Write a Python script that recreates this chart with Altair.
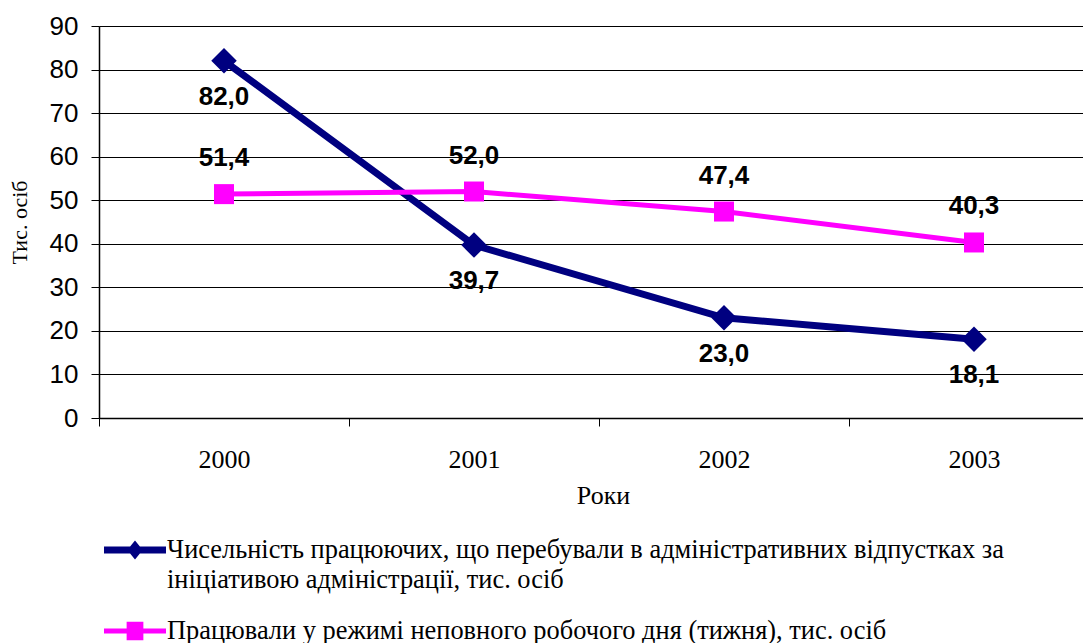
import altair as alt
import pandas as pd

years = ["2000", "2001", "2002", "2003"]
admin_leave = [82.0, 39.7, 23.0, 18.1]
part_time = [51.4, 52.0, 47.4, 40.3]

s1_name = "Чисельність працюючих, що перебували в адміністративних відпустках за|ініціативою адміністрації, тис. осіб"
s2_name = "Працювали у режимі неповного робочого дня (тижня), тис. осіб"

NAVY = "#000080"
MAGENTA = "#FF00FF"
SERIF = "Liberation Serif, Times New Roman, Times, serif"
SANS = "Liberation Sans, Arial, sans-serif"


def fmt(v):
    return f"{v:.1f}".replace(".", ",")


df1 = pd.DataFrame({"year": years, "value": admin_leave, "series": s1_name,
                    "label": [fmt(v) for v in admin_leave]})
df2 = pd.DataFrame({"year": years, "value": part_time, "series": s2_name,
                    "label": [fmt(v) for v in part_time]})

x_enc = alt.X(
    "year:N",
    scale=alt.Scale(type="band", paddingInner=0, paddingOuter=0, range=[0, 1000]),
    axis=alt.Axis(
        title="Роки", tickBand="extent", labelAngle=0, tickSize=8,
        labelPadding=20, labelFont=SERIF, labelFontSize=26, labelColor="black",
        titleFont=SERIF, titleFontSize=26, titleFontWeight="normal", titleColor="black",
        titlePadding=10, titleX=504, domainColor="black", tickColor="black",
        domainWidth=1.5, grid=False,
    ),
)
y_enc = alt.Y(
    "value:Q",
    scale=alt.Scale(domain=[0, 90], nice=False, zero=True),
    axis=alt.Axis(
        title="Тис. осіб", values=list(range(0, 91, 10)), tickSize=8,
        labelPadding=13, labelFont=SANS, labelFontSize=26, labelColor="black",
        titleFont=SERIF, titleFontSize=22, titleFontWeight="normal", titleColor="black",
        titlePadding=18, domainColor="black", tickColor="black", domainWidth=1.5,
        grid=True, gridColor="black", gridOpacity=1, gridWidth=1,
    ),
)

path1 = ("M-1,-0.113 L1,-0.113 L1,0.113 L-1,0.113 Z "
         "M-0.25,0 L0,-0.31 L0.25,0 L0,0.31 Z")
path2 = ("M-1,-0.08 L1,-0.08 L1,0.08 L-1,0.08 Z "
         "M-0.27,-0.3 L0.27,-0.3 L0.27,0.3 L-0.27,0.3 Z")

line1 = alt.Chart(df1).mark_line(strokeWidth=7).encode(
    x=x_enc, y=y_enc,
    color=alt.Color("series:N", scale=alt.Scale(domain=[s1_name], range=[NAVY]),
                    legend=alt.Legend(
                        orient="none", legendX=5, legendY=493, title=None, padding=0,
                        symbolType=path1, symbolSize=3844, symbolFillColor=NAVY,
                        symbolStrokeWidth=0, labelExpr="split(datum.label, '|')",
                        labelFont=SERIF, labelFontSize=26.4, labelColor="black",
                        labelLimit=2000, labelOffset=1)),
)
pts1 = alt.Chart(df1).mark_point(shape="diamond", filled=True, size=650, opacity=1,
                                 color=NAVY).encode(x=x_enc, y=y_enc)
txt1 = alt.Chart(df1).mark_text(dy=36, font=SANS, fontSize=26, fontWeight="bold",
                                color="black").encode(x=x_enc, y=y_enc, text="label:N")

line2 = alt.Chart(df2).mark_line(strokeWidth=5).encode(
    x=x_enc, y=y_enc,
    color=alt.Color("series:N", scale=alt.Scale(domain=[s2_name], range=[MAGENTA]),
                    legend=alt.Legend(
                        orient="none", legendX=5, legendY=574, title=None, padding=0,
                        symbolType=path2, symbolSize=3844, symbolFillColor=MAGENTA,
                        symbolStrokeWidth=0,
                        labelFont=SERIF, labelFontSize=26.4, labelColor="black",
                        labelLimit=2000, labelOffset=1)),
)
pts2 = alt.Chart(df2).mark_point(shape="square", filled=True, size=400, opacity=1,
                                 color=MAGENTA).encode(x=x_enc, y=y_enc)
txt2 = alt.Chart(df2).mark_text(dy=-36, font=SANS, fontSize=26, fontWeight="bold",
                                color="black").encode(x=x_enc, y=y_enc, text="label:N")

chart = alt.layer(line1, pts1, line2, pts2, txt1, txt2).resolve_scale(
    color="independent"
).resolve_legend(color="independent").properties(
    width=984, height=392,
    autosize=alt.AutoSizeParams(type="none"),
    padding={"left": 91, "top": 18, "right": 0, "bottom": 230},
).configure_view(stroke=None).configure(
    style={"guide-label": {"lineHeight": 30}}
)

chart.save("out.html", embed_options={"renderer": "svg", "actions": False})
